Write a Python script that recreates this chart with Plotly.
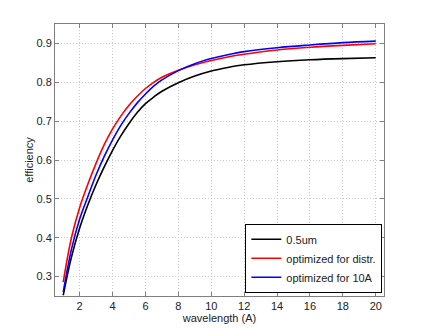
import plotly.graph_objects as go

wavelength = [1, 1.5, 2, 2.5, 3, 3.5, 4, 4.5, 5, 5.5, 6, 6.5, 7, 8, 9, 10, 11, 12, 14, 16, 18, 20]
eff_05um = [0.252, 0.35, 0.425, 0.485, 0.537, 0.583, 0.625, 0.662, 0.694, 0.722, 0.745, 0.762,
            0.777, 0.799, 0.816, 0.829, 0.838, 0.845, 0.853, 0.858, 0.861, 0.863]
eff_distr = [0.286, 0.40, 0.478, 0.538, 0.592, 0.64, 0.68, 0.713, 0.741, 0.764, 0.784, 0.80,
             0.813, 0.831, 0.845, 0.856, 0.865, 0.872, 0.883, 0.890, 0.895, 0.899]
eff_10a = [0.26, 0.37, 0.448, 0.506, 0.562, 0.61, 0.652, 0.689, 0.72, 0.747, 0.77, 0.79,
           0.806, 0.83, 0.848, 0.861, 0.871, 0.879, 0.889, 0.896, 0.902, 0.906]

series = [
    ('0.5um', eff_05um, 'black'),
    ('optimized for distr.', eff_distr, 'red'),
    ('optimized for 10A', eff_10a, 'blue'),
]

fig = go.Figure()
for name, vals, color in series:
    fig.add_trace(go.Scatter(x=wavelength, y=vals, mode='lines', name=name,
                             line=dict(color=color, width=1.6, shape='spline', smoothing=1)))

axis_style = dict(showline=True, linecolor='#7f7f7f', linewidth=1, mirror='ticks',
                  ticks='inside', ticklen=4, tickcolor='#7f7f7f',
                  showgrid=True, gridcolor='#c8c8c8', griddash='1px,2px', gridwidth=1,
                  zeroline=False, automargin=False, tickfont=dict(size=11, color='#222'))

fig.update_xaxes(range=[0.5, 20.5], tickvals=list(range(2, 21, 2)),
                 title=dict(text='wavelength (A)', font=dict(size=11, color='#222'), standoff=0),
                 **axis_style)
fig.update_yaxes(range=[0.25, 0.95], tickvals=[0.3, 0.4, 0.5, 0.6, 0.7, 0.8, 0.9],
                 tickformat='.1f',
                 title=dict(text='efficiency', font=dict(size=11, color='#222'), standoff=0),
                 **axis_style)

# page has an 8px body margin, so the figure is drawn 8px smaller
fig.update_layout(
    width=417, height=325,
    margin=dict(l=47, r=41, t=16, b=37),
    paper_bgcolor='white', plot_bgcolor='white',
    font=dict(family='Liberation Sans, Arial, sans-serif', size=11, color='#222'),
    legend=dict(x=0.995, y=0.012, xanchor='right', yanchor='bottom',
                bgcolor='white', bordercolor='black', borderwidth=1,
                font=dict(size=11), itemwidth=30, tracegroupgap=0),
)

fig.write_html("out.html")
